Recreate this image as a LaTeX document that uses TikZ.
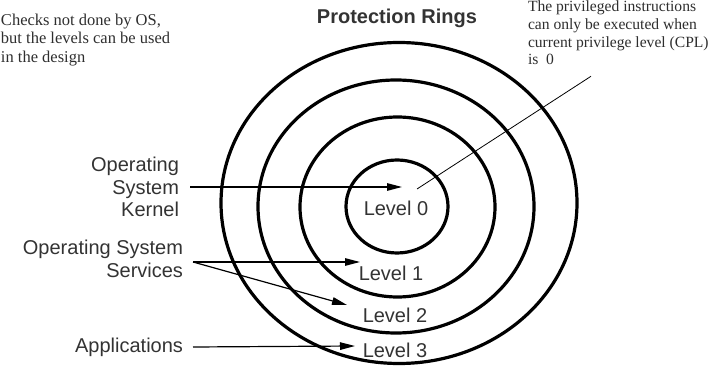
\documentclass[tikz,border=0pt]{standalone}
\usepackage{fontspec}
\setmainfont{Liberation Serif}
\setsansfont{Liberation Sans}
\usepackage{tikz}
\usetikzlibrary{arrows.meta,positioning,calc,shapes.geometric}
\definecolor{ringblack}{HTML}{000000}
\definecolor{labelgray}{HTML}{333333}
\definecolor{notegray}{HTML}{2E2E2E}
\tikzset{
  ring/.style={draw=ringblack, shape=ellipse, line width=3.2pt, inner sep=0pt, outer sep=0pt},
  lvl/.style={font=\sffamily\fontsize{20}{22.5}\selectfont, text=labelgray, inner sep=0pt},
  who/.style={font=\sffamily\fontsize{20}{22.5}\selectfont, text=labelgray, align=right,
    inner ysep=0pt, inner xsep=10pt, outer sep=0pt, anchor=east},
  ptr/.style={-{Triangle[length=15pt,width=7.5pt]}, line width=1.2pt, color=black},
  lead/.style={line width=0.8pt, color=black},
  note/.style={text=notegray, align=left, inner sep=0pt, outer sep=0pt, anchor=north west},
  ringtitle/.style={font=\sffamily\bfseries\fontsize{20}{24}\selectfont, text=labelgray, inner sep=0pt},
}

\begin{document}
\begin{tikzpicture}[x=1pt,y=-1pt]
  \useasboundingbox (0,0) rectangle (728,371);
  \clip (0,0) rectangle (728,371);
  % the four rings
  \node[ring, minimum width=102pt, minimum height=93pt] (ring0) at (397,206.5) {};
  \node[ring, minimum width=195pt, minimum height=180pt] (ring1) at (397.5,207) {};
  \node[ring, minimum width=276pt, minimum height=253pt] (ring2) at (396,206.5) {};
  \node[ring, minimum width=356pt, minimum height=321pt] (ring3) at (399,203) {};
  \node[ringtitle] (title) at (397,18) {Protection Rings};
  % level names
  \node[lvl] (lvl0) at (396,208.5) {Level 0};
  \node[lvl] (lvl1) at (391,273) {Level 1};
  \node[lvl] (lvl2) at (395,315) {Level 2};
  \node[lvl] (lvl3) at (395,350) {Level 3};
  \coordinate (tip0) at (402,187);
  \coordinate (tip1) at (360,262);
  \coordinate (tip2) at (347,305);
  \coordinate (tip3) at (355,346);
  % what runs where
  \node[who, inner xsep=11pt] (kern) at (190,187) {Operating\\System\\Kernel};
  \node[who] (serv) at (193,259) {Operating System\\Services};
  \node[who] (apps) at (193,347) {Applications};
  \draw[ptr] (kern.east) -- (tip0);
  \draw[ptr] ([yshift=-3pt]serv.east) -- (tip1);
  \draw[ptr] ([yshift=-3pt]serv.east) -- (tip2);
  \draw[ptr] (apps.east) -- (tip3);
  % side notes
  \node[note, font=\fontsize{16.5}{18.7}\selectfont] (chk) at (1,13.6)
    {Checks not done by OS,\\but the levels can be used\\in the design};
  \node[note, font=\fontsize{15.6}{17.6}\selectfont] (cpl) at (528,1)
    {The privileged instructions\\can only be executed when\\current privilege level (CPL)\\is\ \ 0};
  \coordinate (cpltip) at (417,189);
  \draw[lead] ($(cpl.south west)+(63,11.5)$) -- (cpltip);
\end{tikzpicture}
\end{document}
